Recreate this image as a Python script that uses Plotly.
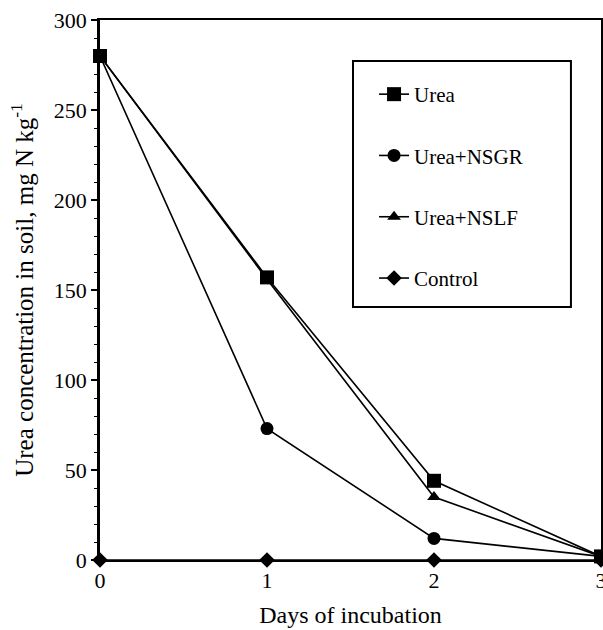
import plotly.graph_objects as go

days = [0, 1, 2, 3]
urea = [280, 157, 44, 2]
urea_nsgr = [280, 73, 12, 2]
urea_nslf = [280, 156, 35, 2]
control = [0, 0, 0, 0]

series = [
    ("Urea", urea, "square", 14),
    ("Urea+NSGR", urea_nsgr, "circle", 13),
    ("Urea+NSLF", urea_nslf, "triangle-up", 12),
    ("Control", control, "diamond", 12),
]

FONT = "Liberation Serif"
fig = go.Figure()
for i, (name, vals, sym, sz) in enumerate(series):
    fig.add_trace(go.Scatter(
        x=days, y=vals, name=name, mode="lines+markers",
        line=dict(color="black", width=1.6),
        marker=dict(symbol=sym, size=sz, color="black"),
        cliponaxis=False, legendgroup=f"g{i}",
    ))

fig.update_layout(
    template="none",
    width=603, height=630,
    margin=dict(l=100, r=2, t=20, b=70),
    paper_bgcolor="white", plot_bgcolor="white",
    font=dict(family=FONT, size=21, color="black"),
    showlegend=True,
    legend=dict(
        x=0.547, y=0.9, xanchor="left", yanchor="top",
        bgcolor="rgba(0,0,0,0)", borderwidth=0,
        font=dict(family=FONT, size=21, color="black"),
        tracegroupgap=31, itemwidth=30,
    ),
    shapes=[dict(
        type="rect", xref="paper", yref="paper",
        x0=0.505, x1=0.940, y0=0.4685, y1=0.924,
        line=dict(color="black", width=2),
    )],
)
fig.update_xaxes(
    range=[0, 3], tickvals=[0, 1, 2, 3], ticktext=["0", "1", "2", "3"],
    showline=True, linecolor="black", linewidth=2, mirror=True,
    showgrid=False, zeroline=False, ticks="", automargin=False,
    ticklabeloverflow="allow",
    tickfont=dict(family=FONT, size=22),
    title=dict(text="Days of incubation", font=dict(family=FONT, size=24), standoff=14),
)
fig.update_yaxes(
    range=[0, 300], tickvals=[0, 50, 100, 150, 200, 250, 300],
    showline=True, linecolor="black", linewidth=2.5, mirror=True,
    showgrid=False, zeroline=False, ticks="outside", ticklen=6, tickwidth=1.5,
    tickcolor="black", automargin=False,
    minor=dict(dtick=10, ticks="outside", ticklen=3, tickcolor="black", tickwidth=1),
    tickfont=dict(family=FONT, size=22),
    title=dict(text="Urea concentration in soil, mg N kg<sup>-1</sup>",
               font=dict(family=FONT, size=25), standoff=14),
)

fig.write_html("out.html")
